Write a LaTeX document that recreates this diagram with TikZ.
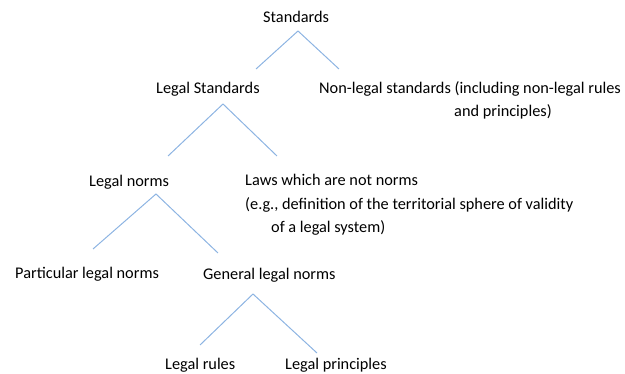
\documentclass[tikz,border=0pt]{standalone}
\usepackage{fontspec}
\setmainfont{Carlito}
\definecolor{linecol}{RGB}{141,180,226}
\begin{document}
\begin{tikzpicture}[x=1pt,y=-1pt,
  lbl/.style={anchor=base west,inner sep=0pt,font=\fontsize{16.3}{23.5}\selectfont,align=left},
  branch/.style={draw=linecol,line width=1pt}]
\useasboundingbox (0,0) rectangle (625,374);
% texts (multi-line nodes are anchored at the baseline of their last line)
\node[lbl] (std) at (263,23) {Standards};
\node[lbl] (legstd) at (156,94) {Legal Standards};
\node[lbl] (nonleg) at (319,117) {Non-legal standards (including non-legal rules\\\hspace*{135pt}and principles)};
\node[lbl] (legnorm) at (89,187) {Legal norms};
\node[lbl] (laws) at (245,233) {Laws which are not norms\\(e.g., definition of the territorial sphere of validity\\\hspace*{26pt}of a legal system)};
\node[lbl] (part) at (15,279) {Particular legal norms};
\node[lbl] (gen) at (203,280) {General legal norms};
\node[lbl] (rules) at (165,370) {Legal rules};
\node[lbl] (princ) at (285,370) {Legal principles};
% branch points
\coordinate (a1) at (298,31);
\coordinate (a1l) at (256,69);
\coordinate (a1r) at (339,69);
\coordinate (a2) at (223,104);
\coordinate (a2l) at (168,156);
\coordinate (a2r) at (277,156);
\coordinate (a3) at (156,194);
\coordinate (a3l) at (93,249);
\coordinate (a3r) at (218,253);
\coordinate (a4) at (253,294);
\coordinate (a4l) at (200,345);
\coordinate (a4r) at (317,353);
\draw[branch] (a1l) -- (a1) -- (a1r);
\draw[branch] (a2l) -- (a2) -- (a2r);
\draw[branch] (a3l) -- (a3) -- (a3r);
\draw[branch] (a4l) -- (a4) -- (a4r);
\end{tikzpicture}
\end{document}
